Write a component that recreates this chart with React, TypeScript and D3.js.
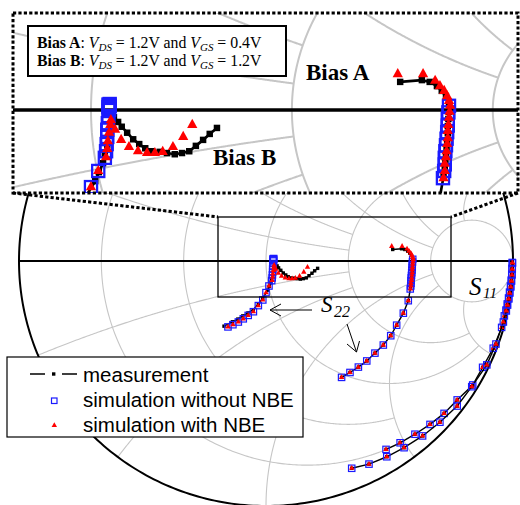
import React from 'react';
import * as d3 from 'd3';

type G = [number, number];

// Smith chart grid values: each circle/arc is drawn up to a limit (keeps the grid sparse near Γ=1)
const resistanceCircles = [0.2, 0.5, 1, 2, 5];
const resistanceXLimit = [2, 2, 5, 5, Infinity];
const reactanceArcs = [0.2, 0.5, 1, 2, 5, -0.2, -0.5, -1, -2, -5];
const reactanceRLimit = [2, 2, 5, 5, 5, 2, 2, 5, 5, 5];

// ---- S22, Bias A (reflection coefficient re, im) ----
const s22A_meas: G[] = [
  [0.513, 0.047], [0.549, 0.050], [0.562, 0.047], [0.574, 0.040], [0.582, 0.032], [0.589, 0.022],
  [0.594, 0.010], [0.594, -0.003], [0.593, -0.015], [0.592, -0.027], [0.592, -0.039], [0.591, -0.051],
  [0.590, -0.063], [0.589, -0.075], [0.588, -0.087], [0.587, -0.099], [0.585, -0.111],
  [0.576, -0.162], [0.556, -0.213], [0.529, -0.262], [0.505, -0.305], [0.475, -0.343],
  [0.441, -0.376], [0.408, -0.408], [0.374, -0.433], [0.340, -0.455], [0.306, -0.475],
];
const s22A_noNBE: G[] = [
  [0.594, 0.007], [0.593, -0.004], [0.592, -0.015], [0.592, -0.026], [0.591, -0.037], [0.590, -0.048],
  [0.589, -0.059], [0.588, -0.069], [0.587, -0.080], [0.587, -0.091], [0.586, -0.102], [0.584, -0.114],
  [0.576, -0.162], [0.556, -0.213], [0.529, -0.262], [0.505, -0.305], [0.475, -0.343],
  [0.441, -0.376], [0.408, -0.408], [0.374, -0.433], [0.340, -0.455], [0.306, -0.475],
];
const s22A_NBE: G[] = [
  [0.509, 0.060], [0.551, 0.060], [0.571, 0.049], [0.579, 0.040], [0.586, 0.032], [0.591, 0.023],
  [0.594, 0.015], [0.596, 0.007], [0.595, -0.003], [0.594, -0.013], [0.593, -0.025], [0.592, -0.035],
  [0.592, -0.047], [0.591, -0.057], [0.590, -0.069], [0.589, -0.079], [0.587, -0.090], [0.587, -0.102],
  [0.585, -0.114],
  [0.576, -0.162], [0.556, -0.213], [0.529, -0.262], [0.505, -0.305], [0.475, -0.343],
  [0.441, -0.376], [0.408, -0.408], [0.374, -0.433], [0.340, -0.455], [0.306, -0.475],
];

// ---- S22, Bias B ----
const s22B_meas: G[] = [
  [0.209, -0.030], [0.197, -0.040], [0.186, -0.050], [0.174, -0.060], [0.163, -0.069], [0.151, -0.072],
  [0.139, -0.074], [0.126, -0.072], [0.114, -0.070], [0.101, -0.069], [0.090, -0.064], [0.080, -0.057],
  [0.070, -0.049], [0.060, -0.038], [0.051, -0.028], [0.045, -0.020], [0.038, -0.012], [0.033, -0.023],
  [0.030, -0.040], [0.027, -0.059], [0.023, -0.075], [0.020, -0.089], [0.013, -0.104], [0.007, -0.119],
  [-0.013, -0.152], [-0.031, -0.175], [-0.052, -0.199], [-0.073, -0.212], [-0.094, -0.224],
  [-0.114, -0.237], [-0.136, -0.248], [-0.170, -0.266],
];
const s22B_noNBE: G[] = [
  [0.031, 0.010], [0.029, 0.009], [0.031, 0.007], [0.029, 0.005], [0.030, 0.003], [0.030, 0.000],
  [0.029, -0.010], [0.028, -0.022], [0.027, -0.033], [0.027, -0.045],
  [0.026, -0.057], [0.025, -0.069], [0.023, -0.080], [0.012, -0.102], [0.000, -0.129], [-0.013, -0.159],
  [-0.031, -0.182], [-0.051, -0.207], [-0.072, -0.222], [-0.092, -0.236], [-0.112, -0.249],
  [-0.134, -0.260], [-0.154, -0.269],
];
const s22B_NBE: G[] = [
  [0.168, -0.025], [0.153, -0.045], [0.136, -0.062], [0.119, -0.070], [0.106, -0.072], [0.093, -0.072],
  [0.078, -0.069], [0.063, -0.062], [0.050, -0.050], [0.040, -0.033], [0.033, -0.017], [0.032, -0.025],
  [0.030, -0.038], [0.028, -0.052], [0.027, -0.065], [0.025, -0.079], [0.012, -0.102], [0.000, -0.129],
  [-0.013, -0.159], [-0.031, -0.182], [-0.051, -0.207], [-0.072, -0.222], [-0.092, -0.236],
  [-0.112, -0.249], [-0.134, -0.260], [-0.154, -0.269],
];

// ---- S11 (measurement and both simulations overlap) ----
const s11A: G[] = [
  [0.997, -0.006], [0.996, -0.030], [0.995, -0.054], [0.993, -0.078], [0.990, -0.102], [0.986, -0.127],
  [0.982, -0.151], [0.977, -0.175], [0.972, -0.200], [0.965, -0.224], [0.954, -0.271], [0.920, -0.356],
  [0.877, -0.434], [0.837, -0.506], [0.774, -0.567], [0.721, -0.622], [0.664, -0.667], [0.603, -0.707],
  [0.543, -0.742], [0.486, -0.769],
];
const s11B: G[] = [
  [0.998, -0.008], [0.997, -0.033], [0.996, -0.057], [0.994, -0.082], [0.991, -0.106], [0.987, -0.131],
  [0.983, -0.155], [0.978, -0.180], [0.973, -0.204], [0.961, -0.249], [0.931, -0.339], [0.894, -0.424],
  [0.833, -0.513], [0.774, -0.592], [0.704, -0.658], [0.634, -0.714], [0.559, -0.762], [0.489, -0.799],
  [0.417, -0.829], [0.347, -0.846],
];

const legendLabels = ['measurement', 'simulation without NBE', 'simulation with NBE'];

const GRID = '#c6c6c6';
const SERIF = '"Liberation Serif", "Times New Roman", serif';
const SANS = '"Liberation Sans", Arial, sans-serif';

const zToGamma = (r: number, x: number): G => {
  const den = (r + 1) * (r + 1) + x * x;
  return [(r * r - 1 + x * x) / den, (2 * x) / den];
};

function gridCurves(): G[][] {
  const curves: G[][] = [];
  resistanceCircles.forEach((r, i) => {
    const X = resistanceXLimit[i];
    if (!isFinite(X)) {
      const c = r / (1 + r), rad = 1 / (1 + r);
      curves.push(d3.range(0, 361, 1).map((a) => {
        const t = (a * Math.PI) / 180;
        return [c + rad * Math.cos(t), rad * Math.sin(t)] as G;
      }));
    } else {
      curves.push(d3.range(0, 401).map((k) => zToGamma(r, -X + (2 * X * k) / 400)));
    }
  });
  reactanceArcs.forEach((x, i) => {
    const R = reactanceRLimit[i];
    curves.push(d3.range(0, 401).map((k) => zToGamma((R * k) / 400, x)));
  });
  return curves;
}

function Layer({ cx, cy, rx, ry, k, gridW, axisW, showOuter }: any) {
  const xS = d3.scaleLinear().domain([-1, 1]).range([cx - rx, cx + rx]);
  const yS = d3.scaleLinear().domain([-1, 1]).range([cy + ry, cy - ry]);
  const line = d3.line<G>().x((d) => xS(d[0])).y((d) => yS(d[1]));
  const outer: G[] = d3.range(0, 361, 1).map((a) => [Math.cos((a * Math.PI) / 180), Math.sin((a * Math.PI) / 180)] as G);

  const sq = 3.4 * k, bs = 6.4 * k, tw = 5.4 * k, th = 4.8 * k;
  const curve = (key: string, meas: G[], blue: G[], red: G[]) => (
    <g key={key}>
      <path d={line(meas) || ''} fill="none" stroke="#000" strokeWidth={1.4 * k} />
      {meas.map((p, i) => (
        <rect key={'m' + i} x={xS(p[0]) - sq / 2} y={yS(p[1]) - sq / 2} width={sq} height={sq} fill="#000" />
      ))}
      {blue.map((p, i) => (
        <rect key={'b' + i} x={xS(p[0]) - bs / 2} y={yS(p[1]) - bs / 2} width={bs} height={bs}
          fill="none" stroke="#1a1aff" strokeWidth={1.2 * k} />
      ))}
      {red.map((p, i) => {
        const X = xS(p[0]), Y = yS(p[1]);
        return (
          <path key={'r' + i} d={`M${X},${Y - (th * 2) / 3}L${X - tw / 2},${Y + th / 3}L${X + tw / 2},${Y + th / 3}Z`} fill="#ff0000" />
        );
      })}
    </g>
  );

  return (
    <g>
      {gridCurves().map((c, i) => (
        <path key={'g' + i} d={line(c) || ''} fill="none" stroke={GRID} strokeWidth={gridW} />
      ))}
      {showOuter && <path d={line(outer) || ''} fill="none" stroke="#000" strokeWidth={2} />}
      <line x1={xS(-1)} x2={xS(1)} y1={yS(0)} y2={yS(0)} stroke="#000" strokeWidth={axisW} />
      {curve('s11a', s11A, s11A, s11A)}
      {curve('s11b', s11B, s11B, s11B)}
      {curve('s22a', s22A_meas, s22A_noNBE, s22A_NBE)}
      {curve('s22b', s22B_meas, s22B_noNBE, s22B_NBE)}
    </g>
  );
}

export default function App() {
  const inset = { x0: 13, y0: 13, x1: 518, y1: 193 };
  const zoomK = 2.44;
  const fs = 15.8, sub = 11;
  return (
    <svg width={520} height={505} style={{ position: 'absolute', left: 0, top: 0 }}>
      <defs>
        <clipPath id="insetClip">
          <rect x={inset.x0} y={inset.y0} width={inset.x1 - inset.x0} height={inset.y1 - inset.y0} />
        </clipPath>
      </defs>
      <rect x={0} y={0} width={520} height={505} fill="#fff" />
      <Layer cx={266} cy={261} rx={247} ry={245} k={1} gridW={1.1} axisW={2.2} showOuter />
      {/* zoom rectangle */}
      <rect x={218} y={217} width={233} height={80} fill="none" stroke="#000" strokeWidth={1.3} />
      {/* S labels and arrows */}
      <text x={469} y={295} fontFamily={SERIF} fontStyle="italic" fontSize={25}>S</text>
      <text x={483} y={298} fontFamily={SERIF} fontStyle="italic" fontSize={15}>11</text>
      <text x={321} y={312} fontFamily={SERIF} fontStyle="italic" fontSize={23}>S</text>
      <text x={334} y={317} fontFamily={SERIF} fontStyle="italic" fontSize={16}>22</text>
      <g stroke="#000" strokeWidth={1} fill="none">
        <path d="M312,310L270,310M281,304L270,310L281,316" />
        <path d="M347,324L356.5,352M347,344L356.5,352L359.5,341" />
      </g>
      {/* legend */}
      <rect x={7} y={357} width={296} height={80} fill="#fff" stroke="#000" strokeWidth={1.2} />
      <path d="M30,374H45M62,374H77" stroke="#000" strokeWidth={1.5} />
      <rect x={52} y={372.3} width={3.4} height={3.4} fill="#000" />
      <rect x={51.5} y={398} width={5.5} height={5.5} fill="none" stroke="#1a1aff" strokeWidth={1.2} />
      <path d="M54.3,422.3L51.6,427L57,427Z" fill="#ff0000" />
      {legendLabels.map((t, i) => (
        <text key={t} x={83} y={381.5 + i * 25} fontFamily={SANS} fontSize={20.5}>{t}</text>
      ))}
      {/* inset */}
      <rect x={inset.x0} y={inset.y0} width={inset.x1 - inset.x0} height={inset.y1 - inset.y0} fill="#fff" />
      <g clipPath="url(#insetClip)">
        <Layer cx={91} cy={110} rx={247 * zoomK} ry={245 * zoomK} k={1.9} gridW={2} axisW={3.5} showOuter={false} />
      </g>
      <text x={306} y={80} fontFamily={SERIF} fontWeight="bold" fontSize={23}>Bias A</text>
      <text x={213} y={165} fontFamily={SERIF} fontWeight="bold" fontSize={23}>Bias B</text>
      <rect x={28} y={26} width={258} height={50} fill="#fff" stroke="#000" strokeWidth={2} />
      <text x={37} y={48} fontFamily={SERIF} fontSize={fs}>
        <tspan fontWeight="bold">Bias A</tspan>
        <tspan>{': '}</tspan>
        <tspan fontStyle="italic">V</tspan>
        <tspan fontStyle="italic" fontSize={sub} dy={3}>DS</tspan>
        <tspan dy={-3}>{' = 1.2V and '}</tspan>
        <tspan fontStyle="italic">V</tspan>
        <tspan fontStyle="italic" fontSize={sub} dy={3}>GS</tspan>
        <tspan dy={-3}>{' = 0.4V'}</tspan>
      </text>
      <text x={37} y={66} fontFamily={SERIF} fontSize={fs}>
        <tspan fontWeight="bold">Bias B</tspan>
        <tspan>{': '}</tspan>
        <tspan fontStyle="italic">V</tspan>
        <tspan fontStyle="italic" fontSize={sub} dy={3}>DS</tspan>
        <tspan dy={-3}>{' = 1.2V and '}</tspan>
        <tspan fontStyle="italic">V</tspan>
        <tspan fontStyle="italic" fontSize={sub} dy={3}>GS</tspan>
        <tspan dy={-3}>{' = 1.2V'}</tspan>
      </text>
      <rect x={inset.x0} y={inset.y0} width={inset.x1 - inset.x0} height={inset.y1 - inset.y0}
        fill="none" stroke="#000" strokeWidth={3} strokeDasharray="3.2 2.2" />
      <g stroke="#000" strokeWidth={3} strokeDasharray="3.2 2.2">
        <line x1={inset.x0} y1={inset.y1} x2={218} y2={217} />
        <line x1={inset.x1} y1={inset.y1} x2={451} y2={217} />
      </g>
    </svg>
  );
}
